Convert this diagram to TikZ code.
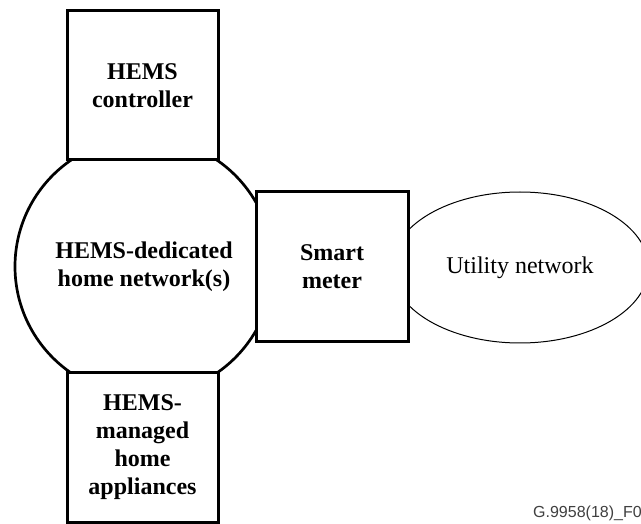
\documentclass[tikz,border=0pt]{standalone}
\usepackage{fontspec}
\setmainfont{Liberation Serif}
\newfontfamily\labelsans{Liberation Sans}
\usetikzlibrary{shapes.geometric}
\begin{document}
\begin{tikzpicture}[x=1pt,y=-1pt,
  boldtext/.style={font=\fontsize{24}{28}\selectfont\bfseries, align=center, text=black},
  boxnode/.style={draw=black, line width=3pt, fill=white, rectangle, inner sep=0pt, boldtext},
  netcircle/.style={draw=black, line width=2.7pt, fill=white, circle, inner sep=0pt, minimum size=258pt, boldtext},
  utilell/.style={draw=black, line width=1pt, fill=white, ellipse, inner sep=0pt, minimum width=257pt, minimum height=151pt, font=\fontsize{24}{28}\selectfont},
  figlabel/.style={font=\labelsans\fontsize{16}{18}\selectfont, text=black!75, inner sep=0pt, anchor=base west}
]
\useasboundingbox (0,0) rectangle (641,524);
\fill[white] (0,0) rectangle (641,524);
% background shapes
\node[netcircle] (net) at (144,266.5) {HEMS-dedicated\\home network(s)};
\node[utilell] (util) at (520,267.5) {Utility network};
% boxes drawn on top
\node[boxnode, minimum width=151pt, minimum height=149pt] (ctrl) at (142.5,85.5) {HEMS\\controller};
\node[boxnode, minimum width=151pt, minimum height=150pt] (appl) at (142.5,447) {HEMS-\\managed\\home\\appliances};
\node[boxnode, minimum width=152pt, minimum height=150pt] (meter) at (332,267) {Smart\\meter};
\node[figlabel] (fig) at (533,517) {G.9958(18)\_F0};
\end{tikzpicture}
\end{document}
